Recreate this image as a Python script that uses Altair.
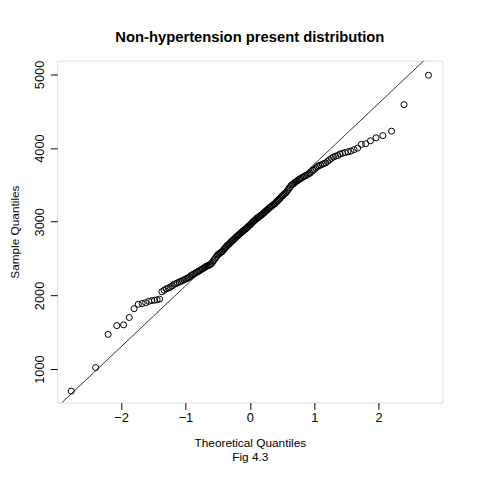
import altair as alt
import pandas as pd
from statistics import NormalDist

# sorted sample values
sample = [700, 1020, 1470, 1590, 1600, 1700, 1820, 1880, 1890, 1900,
          1920, 1930, 1935, 1940, 1950, 2050, 2070, 2090, 2100, 2110,
          2130, 2150, 2160, 2170, 2180, 2190, 2200, 2210, 2220,
          2230, 2240, 2250, 2270, 2280, 2290, 2300, 2310, 2320, 2330,
          2340, 2350, 2360, 2370, 2380, 2390, 2400, 2405, 2410, 2420, 2430,
          2450, 2470, 2490, 2510, 2530, 2550, 2560, 2570, 2580, 2590, 2600, 2620,
          2635, 2650, 2665, 2680, 2690, 2700, 2715, 2730, 2740, 2750, 2765, 2775, 2790, 2800,
          2810, 2820, 2830, 2845, 2855, 2865, 2875, 2885, 2895, 2905, 2915, 2925, 2940, 2950,
          2960, 2975, 2985, 3000, 3010, 3020, 3030, 3045, 3055, 3060, 3070, 3080, 3090, 3100,
          3110, 3120, 3130, 3145, 3155, 3165, 3180, 3190, 3200, 3210, 3220, 3230, 3240, 3250,
          3265, 3280, 3290, 3305, 3320, 3335, 3350, 3360, 3375, 3390, 3400, 3420,
          3440, 3460, 3480, 3500, 3510, 3520, 3535, 3545, 3555, 3570, 3580,
          3590, 3600, 3610, 3620, 3630, 3640, 3650, 3660, 3680, 3700,
          3710, 3730, 3750, 3760, 3770, 3780, 3790, 3800, 3820, 3840,
          3860, 3880, 3890, 3900, 3920, 3930, 3940, 3950, 3960, 3980,
          4000, 4050, 4060, 4100, 4140, 4170, 4230, 4590, 4990]

nd = NormalDist()
n = len(sample)
theo = [nd.inv_cdf((i + 0.5) / n) for i in range(n)]
pts = pd.DataFrame({"x": theo, "y": sample})

# qqline through the quartiles
q1, q3 = pts["y"].quantile(0.25), pts["y"].quantile(0.75)
z1, z3 = nd.inv_cdf(0.25), nd.inv_cdf(0.75)
slope = (q3 - q1) / (z3 - z1)
icpt = q1 - slope * z1
line = pd.DataFrame({"x": [-3.5, 3.5]})
line["y"] = icpt + slope * line["x"]

xs = alt.Scale(domain=[-2.99, 2.99], nice=False, zero=False)
ys = alt.Scale(domain=[545, 5187], nice=False, zero=False)
xax = alt.Axis(values=[-2, -1, 0, 1, 2], format="d", grid=False, domain=False, tickSize=7,
               tickColor="black", labelColor="black", labelFontSize=13,
               title=["Theoretical Quantiles", "Fig 4.3"], titleFontWeight="normal",
               titleFontSize=12, titlePadding=14, titleColor="black")
yax = alt.Axis(values=[1000, 2000, 3000, 4000, 5000], format="d", grid=False, domain=False,
               tickSize=7, tickColor="black", labelColor="black", labelFontSize=13,
               labelAngle=-90, labelAlign="center", labelBaseline="bottom", labelPadding=4,
               title="Sample Quantiles", titleFontWeight="normal", titleFontSize=12,
               titlePadding=12, titleColor="black")

points = alt.Chart(pts).mark_point(shape="circle", filled=False, color="black",
                                   size=38, strokeWidth=1, opacity=1).encode(
    x=alt.X("x:Q", scale=xs, axis=xax),
    y=alt.Y("y:Q", scale=ys, axis=yax),
)
ref = alt.Chart(line).mark_line(color="#333333", strokeWidth=1, clip=True).encode(
    x=alt.X("x:Q", scale=xs),
    y=alt.Y("y:Q", scale=ys),
)

chart = (ref + points).properties(
    width=391, height=347,
    autosize=alt.AutoSizeParams(type="none"),
    padding={"left": 50, "top": 50, "right": 30, "bottom": 67},
    title=alt.TitleParams("Non-hypertension present distribution", fontSize=15,
                          fontWeight="bold", color="black", offset=16),
).configure_view(stroke="black", strokeWidth=1, strokeOpacity=1).configure(font="Liberation Sans")

chart.save("out.html", embed_options={"renderer": "svg", "actions": False})
